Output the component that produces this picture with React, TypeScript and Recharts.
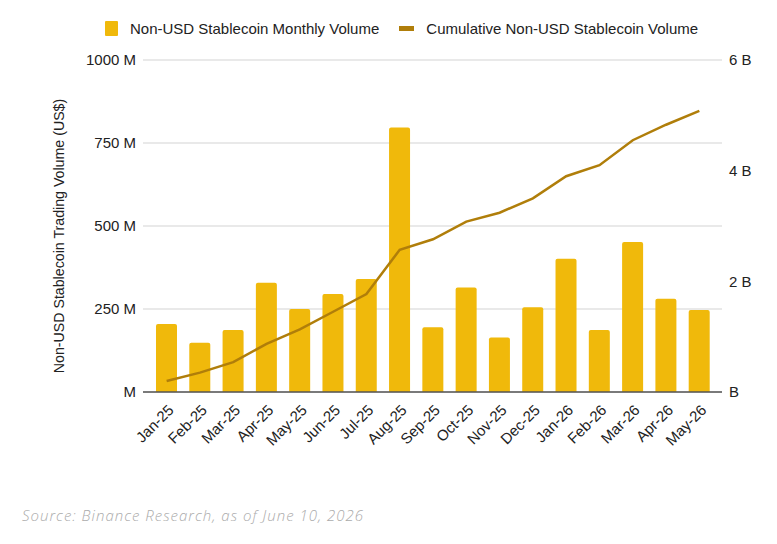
import React from 'react';
import { ComposedChart, Bar, Line, XAxis, YAxis, CartesianGrid } from 'recharts';

const months = [
  'Jan-25', 'Feb-25', 'Mar-25', 'Apr-25', 'May-25', 'Jun-25', 'Jul-25', 'Aug-25', 'Sep-25',
  'Oct-25', 'Nov-25', 'Dec-25', 'Jan-26', 'Feb-26', 'Mar-26', 'Apr-26', 'May-26',
];
// monthly volume, US$ millions
const monthlyVolume = [205, 148, 187, 329, 250, 295, 340, 797, 195, 315, 164, 255, 401, 187, 452, 281, 247];
// cumulative volume, US$ billions
const cumulativeVolume = [0.2, 0.35, 0.54, 0.87, 1.13, 1.45, 1.77, 2.57, 2.76, 3.08, 3.24, 3.5, 3.9, 4.1, 4.55, 4.83, 5.08];
const leftTicks = [0, 250, 500, 750, 1000];
const rightTicks = [0, 2, 4, 6];

const data = months.map((m, i) => ({ month: m, monthly: monthlyVolume[i], cumulative: cumulativeVolume[i] }));

const BAR = '#f0b90b';
const LINE = '#b07e0a';
const FONT = 'Arial, "Liberation Sans", sans-serif';

const MonthTick = (props: any) => {
  const { x, y, payload } = props;
  return (
    <text
      x={x + 8}
      y={y + 11}
      transform={`rotate(-45 ${x + 8} ${y + 11})`}
      textAnchor="end"
      fontSize={15}
      fontFamily={FONT}
      fill="#222"
    >
      {payload.value}
    </text>
  );
};

export default function App() {
  return (
    <div style={{ position: 'relative', width: 777, height: 544, background: '#fff', fontFamily: FONT }}>
      <style>{'body{margin:0}'}</style>

      <div style={{ position: 'absolute', top: 20, left: 105, display: 'flex', alignItems: 'center', fontSize: 15, color: '#222' }}>
        <span style={{ display: 'inline-block', width: 13, height: 15, background: BAR, borderRadius: 1, marginRight: 12 }} />
        <span>Non-USD Stablecoin Monthly Volume</span>
        <span style={{ display: 'inline-block', width: 15, height: 5, background: LINE, marginLeft: 20, marginRight: 12 }} />
        <span>Cumulative Non-USD Stablecoin Volume</span>
      </div>

      <div
        style={{
          position: 'absolute', left: 59, top: 236, transform: 'translate(-50%, -50%) rotate(-90deg)',
          whiteSpace: 'nowrap', fontSize: 14.2, color: '#222',
        }}
      >
        Non-USD Stablecoin Trading Volume (US$)
      </div>

      <ComposedChart
        width={777}
        height={544}
        data={data}
        margin={{ top: 60, right: 0, bottom: 0, left: 0 }}
        barCategoryGap="18%"
      >
        <CartesianGrid yAxisId="left" vertical={false} stroke="#d4d4d4" strokeWidth={1.2} />
        <XAxis
          dataKey="month"
          height={152}
          interval={0}
          tick={<MonthTick />}
          tickLine={false}
          axisLine={{ stroke: '#555', strokeWidth: 1.5 }}
          padding={{ left: 7, right: 6 }}
        />
        <YAxis
          yAxisId="left"
          width={143}
          domain={[0, 1000]}
          ticks={leftTicks}
          tickFormatter={(v: number) => (v === 0 ? 'M' : `${v} M`)}
          axisLine={false}
          tickLine={false}
          tickMargin={1}
          tick={{ fontSize: 15, fill: '#222', fontFamily: FONT }}
        />
        <YAxis
          yAxisId="right"
          orientation="right"
          width={55}
          domain={[0, 6]}
          ticks={rightTicks}
          tickFormatter={(v: number) => (v === 0 ? 'B' : `${v} B`)}
          axisLine={false}
          tickLine={false}
          tickMargin={1}
          tick={{ fontSize: 15, fill: '#222', fontFamily: FONT }}
        />
        <Bar yAxisId="left" dataKey="monthly" fill={BAR} radius={[2, 2, 0, 0]} isAnimationActive={false} />
        <Line
          yAxisId="right"
          dataKey="cumulative"
          stroke={LINE}
          strokeWidth={2.5}
          dot={false}
          type="linear"
          isAnimationActive={false}
        />
      </ComposedChart>

      <div
        style={{
          position: 'absolute', left: 22, top: 505, fontSize: 15, fontStyle: 'italic', fontWeight: 300,
          letterSpacing: 1, color: '#ababab', fontFamily: '"Open Sans", sans-serif',
        }}
      >
        Source: Binance Research, as of June 10, 2026
      </div>
    </div>
  );
}
